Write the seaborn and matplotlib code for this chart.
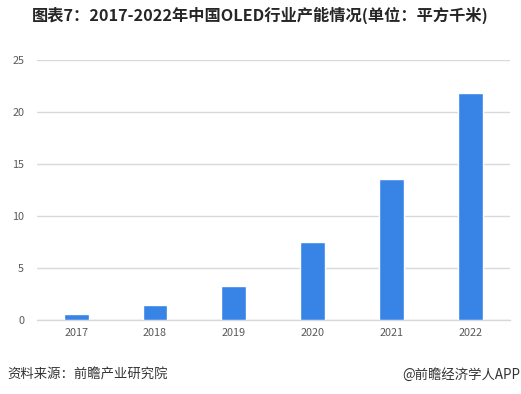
import matplotlib
matplotlib.use("Agg")
import matplotlib.pyplot as plt
import seaborn as sns
import pandas as pd

# values
years = ["2017", "2018", "2019", "2020", "2021", "2022"]
capacity = [0.6, 1.45, 3.3, 7.5, 13.6, 21.8]
y_ticks = [0, 5, 10, 15, 20, 25]

title = "图表7：2017-2022年中国OLED行业产能情况(单位：平方千米)"
source = "资料来源：前瞻产业研究院"
credit = "@前瞻经济学人APP"

sns.set_theme(style="white")
plt.rcParams['font.family'] = ['Noto Sans CJK SC', 'DejaVu Sans']

df = pd.DataFrame({"year": years, "value": capacity})

fig = plt.figure(figsize=(5.21, 3.94), dpi=100)
ax = fig.add_axes([0.0704, 0.1878, 0.9086, 0.66])

sns.barplot(data=df, x="year", y="value", color="#3783e6", saturation=1,
            width=0.316, ax=ax, zorder=3)

ax.set_ylim(0, 25)
ax.set_xlim(-0.5, len(years) - 0.5)
ax.set_yticks(y_ticks)
ax.yaxis.grid(True, color="#d9d9d9", linewidth=1, zorder=0)
ax.set_axisbelow(True)
for side in ["top", "right", "left"]:
    ax.spines[side].set_visible(False)
ax.spines["bottom"].set_color("#d9d9d9")
ax.spines["bottom"].set_linewidth(1)
ax.set_xlabel("")
ax.set_ylabel("")
ax.tick_params(axis="both", length=0, labelsize=7.8, colors="#595959")
ax.tick_params(axis="y", pad=9)
ax.tick_params(axis="x", pad=6)

fig.text(0.5, 0.962, title, ha="center", va="center", fontsize=11.7,
         fontweight="bold", color="#262626")
fig.text(0.015, 0.048, source, ha="left", va="center", fontsize=9.6,
         color="#333333")
fig.text(0.999, 0.048, credit, ha="right", va="center", fontsize=9.6,
         color="#333333")

fig.savefig("out.png", dpi=100, facecolor="white")
